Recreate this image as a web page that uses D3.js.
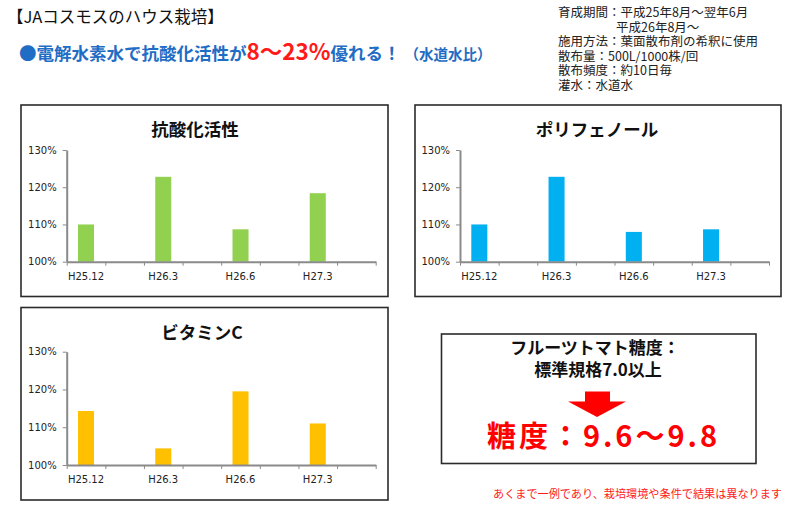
<!DOCTYPE html>
<html>
<head>
<meta charset="utf-8">
<script src="https://cdn.jsdelivr.net/npm/d3@7"></script>
<style>
  body { margin: 0; background: #fff; }
  svg { display: block; }
  .jp { font-family: "Noto Sans CJK JP", sans-serif; }
  .axis text { font-family: "DejaVu Sans", Verdana, sans-serif; font-size: 10px; fill: #222; }
  .axis path, .axis line { stroke: #8a8a8a; }
  .axis path { stroke-width: 2; }
</style>
</head>
<body>
<div id="chart"></div>
<script>
// categories (every other slot on the axis is blank, like the original sheet)
const categories = ["H25.12", "H26.3", "H26.6", "H27.3"];
const yTicks = [1.0, 1.1, 1.2, 1.3];

// ratio vs tap water
const antioxidant = [1.10, 1.228, 1.087, 1.184];
const polyphenol  = [1.10, 1.228, 1.080, 1.087];
const vitaminC    = [1.143, 1.044, 1.195, 1.110];

const infoLines = [
  "育成期間：平成25年8月～翌年6月",
  "平成26年8月～",
  "施用方法：葉面散布剤の希釈に使用",
  "散布量：500L/1000株/回",
  "散布頻度：約10日毎",
  "灌水：水道水"
];

const W = 800, H = 520;
const svg = d3.select("#chart").append("svg")
  .attr("width", W).attr("height", H);

// header
svg.append("text").attr("class", "jp")
  .attr("x", 7).attr("y", 23)
  .attr("font-size", 16.5).attr("fill", "#111")
  .text("【JAコスモスのハウス栽培】");

const lead = svg.append("text").attr("class", "jp")
  .attr("x", 19).attr("y", 60)
  .attr("font-weight", "bold").attr("fill", "#1f6dc4");
lead.append("tspan").attr("font-size", 17.5).text("●電解水素水で抗酸化活性が");
lead.append("tspan").attr("font-size", 22.5).attr("fill", "#ff1a1a").text("8～23%");
lead.append("tspan").attr("font-size", 17.5).text("優れる！");
lead.append("tspan").attr("font-size", 14.5).attr("dx", 4).text("（水道水比）");

svg.append("g").attr("class", "jp")
  .selectAll("text").data(infoLines).join("text")
  .attr("x", (d, i) => i === 1 ? 616 : 558)
  .attr("y", (d, i) => 17 + i * 14.5)
  .attr("font-size", 12.5).attr("fill", "#222")
  .text(d => d);

// the three bar charts
const panels = [
  { title: "抗酸化活性",   values: antioxidant, color: "#92d050",
    box: [21, 105, 388, 296.5], plot: [66.7, 150, 375.7, 261.7], titleX: 195, titleY: 136 },
  { title: "ポリフェノール", values: polyphenol, color: "#00b0f0",
    box: [415, 105, 781, 296.5], plot: [460, 150, 769, 261.7], titleX: 597, titleY: 136 },
  { title: "ビタミンC",    values: vitaminC, color: "#ffc000",
    box: [21, 307.5, 388, 500], plot: [66.7, 351.7, 375.7, 465], titleX: 202, titleY: 339 }
];

// interleave a blank slot after every category
const slots = [];
categories.forEach((c, i) => { slots.push(c); slots.push("blank" + i); });

panels.forEach(p => {
  const [bx0, by0, bx1, by1] = p.box;
  const [px0, py0, px1, py1] = p.plot;

  svg.append("rect")
    .attr("x", bx0).attr("y", by0)
    .attr("width", bx1 - bx0).attr("height", by1 - by0)
    .attr("fill", "none").attr("stroke", "#2b2b2b").attr("stroke-width", 1.6);

  svg.append("text").attr("class", "jp")
    .attr("x", p.titleX).attr("y", p.titleY)
    .attr("text-anchor", "middle")
    .attr("font-size", 17.5).attr("font-weight", "bold").attr("fill", "#111")
    .text(p.title);

  const x = d3.scaleBand().domain(slots).range([px0, px1])
    .paddingInner(0.585).paddingOuter(0.2925);
  const xEdge = d3.scaleLinear().domain([0, slots.length]).range([px0, px1]);
  const y = d3.scaleLinear().domain([1.0, 1.3]).range([py1, py0]);

  svg.append("g").selectAll("rect")
    .data(p.values).join("rect")
    .attr("x", (d, i) => x(categories[i]))
    .attr("y", d => y(d))
    .attr("width", x.bandwidth())
    .attr("height", d => y(1.0) - y(d))
    .attr("fill", p.color);

  svg.append("g").attr("class", "axis")
    .attr("transform", `translate(${px0},0)`)
    .call(d3.axisLeft(y).tickValues(yTicks).tickFormat(d3.format(".0%")).tickSize(4).tickSizeOuter(0))
    .call(g => g.selectAll("text").attr("dx", -3));

  svg.append("g").attr("class", "axis")
    .attr("transform", `translate(0,${py1})`)
    .call(d3.axisBottom(xEdge).ticks(slots.length).tickFormat("").tickSize(4).tickSizeOuter(0));

  svg.append("g").attr("class", "axis")
    .attr("transform", `translate(0,${py1})`)
    .call(d3.axisBottom(x).tickFormat(d => d.startsWith("blank") ? "" : d).tickSize(0).tickPadding(11))
    .call(g => g.select(".domain").remove());
});

// sugar content box
svg.append("rect")
  .attr("x", 441.5).attr("y", 334)
  .attr("width", 314.5).attr("height", 129.5)
  .attr("fill", "none").attr("stroke", "#2b2b2b").attr("stroke-width", 1.6);

svg.append("text").attr("class", "jp")
  .attr("x", 595).attr("y", 354)
  .attr("text-anchor", "middle").attr("font-size", 17).attr("font-weight", "bold").attr("fill", "#111")
  .text("フルーツトマト糖度：");
svg.append("text").attr("class", "jp")
  .attr("x", 598).attr("y", 376)
  .attr("text-anchor", "middle").attr("font-size", 17).attr("font-weight", "bold").attr("fill", "#111")
  .text("標準規格7.0以上");

svg.append("path")
  .attr("d", "M585,391.5 H610 V401.5 H626 L597,417 L568,401.5 H585 Z")
  .attr("fill", "#ff0000");

svg.append("text").attr("class", "jp")
  .attr("x", 487).attr("y", 447)
  .attr("font-size", 29).attr("font-weight", "bold").attr("fill", "#ff0000")
  .attr("textLength", 230).attr("lengthAdjust", "spacing")
  .text("糖度：9.6～9.8");

svg.append("text").attr("class", "jp")
  .attr("x", 493).attr("y", 498)
  .attr("font-size", 11.1).attr("fill", "#ff1a1a")
  .attr("textLength", 289).attr("lengthAdjust", "spacingAndGlyphs")
  .text("あくまで一例であり、栽培環境や条件で結果は異なります");
</script>
</body>
</html>
